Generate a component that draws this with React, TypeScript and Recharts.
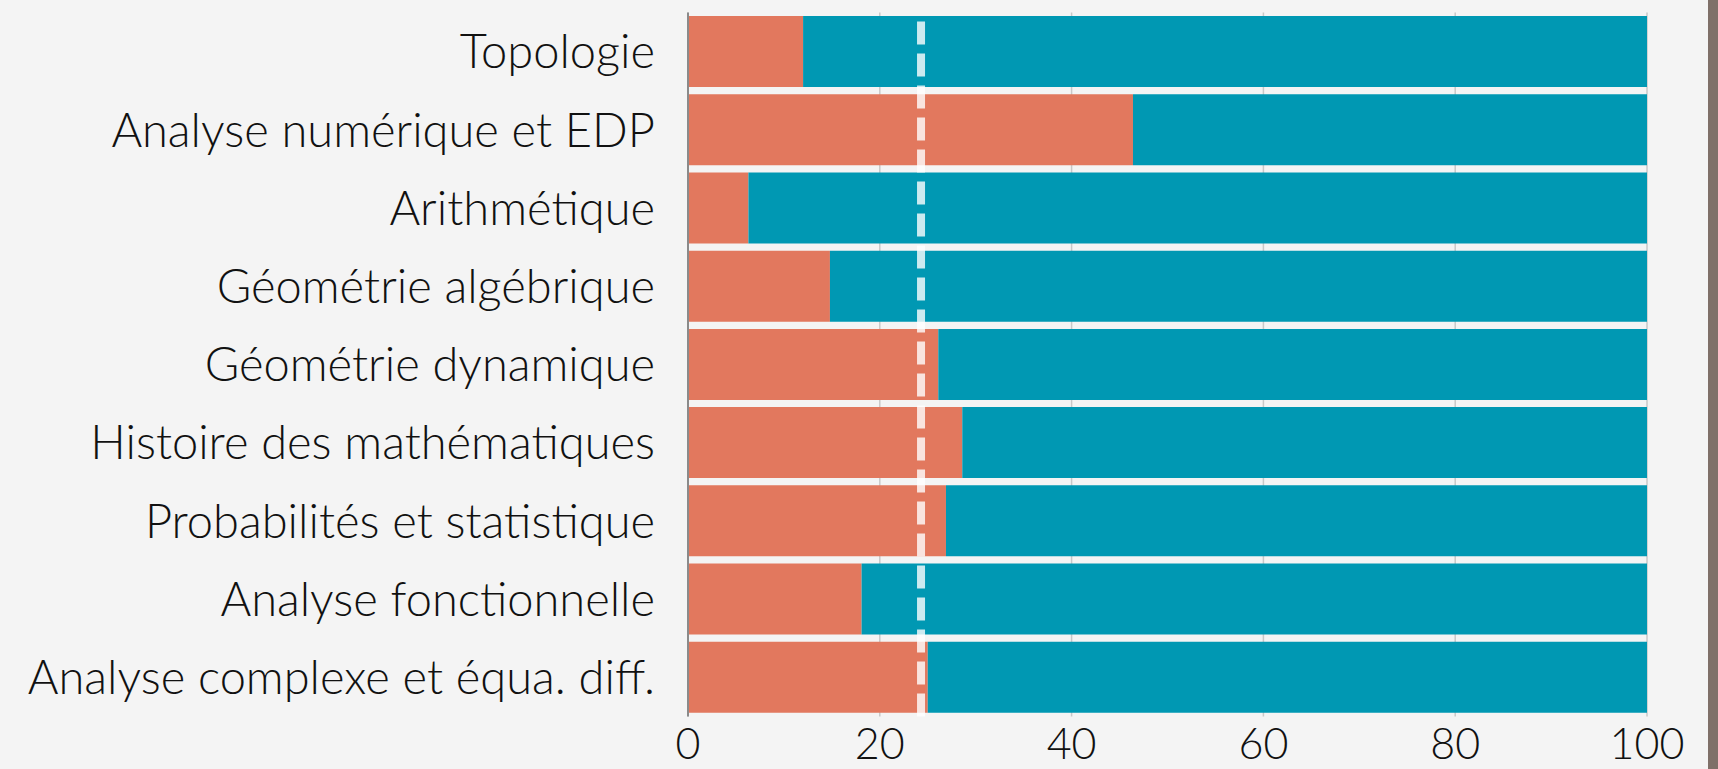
import { Bar, BarChart, CartesianGrid, ReferenceLine, XAxis, YAxis } from "recharts";

const categories = [
  "Topologie",
  "Analyse numérique et EDP",
  "Arithmétique",
  "Géométrie algébrique",
  "Géométrie dynamique",
  "Histoire des mathématiques",
  "Probabilités et statistique",
  "Analyse fonctionnelle",
  "Analyse complexe et équa. diff.",
];

const orangeValues = [12.0, 46.4, 6.3, 14.8, 26.1, 28.6, 26.9, 18.1, 25.0];
const tealValues = [88.0, 53.6, 93.7, 85.2, 73.9, 71.4, 73.1, 81.9, 75.0];
const xTicks = [0, 20, 40, 60, 80, 100];

// dashed average line
const average = 24.3;

const data = categories.map((name, i) => ({
  name,
  orange: orangeValues[i],
  teal: tealValues[i],
}));

const font = "Lato, 'Open Sans', sans-serif";

export default function App() {
  return (
    <div style={{ display: "flex", width: 1718, height: 769, background: "#f4f4f4" }}>
      <style>{`body{margin:0}`}</style>
      <BarChart
        width={1708}
        height={769}
        data={data}
        layout="vertical"
        margin={{ top: 12.5, right: 61, bottom: 0, left: 0 }}
        barCategoryGap={3.5}
      >
        <CartesianGrid horizontal={false} stroke="#c8c8c8" strokeWidth={1.5} />
        <XAxis
          type="number"
          domain={[0, 100]}
          ticks={xTicks}
          height={52.5}
          axisLine={false}
          tickLine={false}
          tickSize={0}
          tickMargin={12}
          tick={{ fill: "#111", fontSize: 43, fontFamily: font, fontWeight: 300 }}
        />
        <YAxis
          type="category"
          dataKey="name"
          width={688}
          axisLine={{ stroke: "#8a8a8a", strokeWidth: 2 }}
          tickLine={false}
          tickSize={0}
          tickMargin={33}
          interval={0}
          tick={{ fill: "#111", fontSize: 47, fontFamily: font, fontWeight: 300 }}
        />
        <Bar dataKey="orange" stackId="a" fill="#e2785e" isAnimationActive={false} />
        <Bar dataKey="teal" stackId="a" fill="#0098b3" isAnimationActive={false} />
        <ReferenceLine
          x={average}
          stroke="#ffffff"
          strokeOpacity={0.8}
          strokeWidth={8}
          strokeDasharray="23 9"
        />
      </BarChart>
      <div style={{ width: 10, height: 769, background: "#7f7069" }} />
    </div>
  );
}
